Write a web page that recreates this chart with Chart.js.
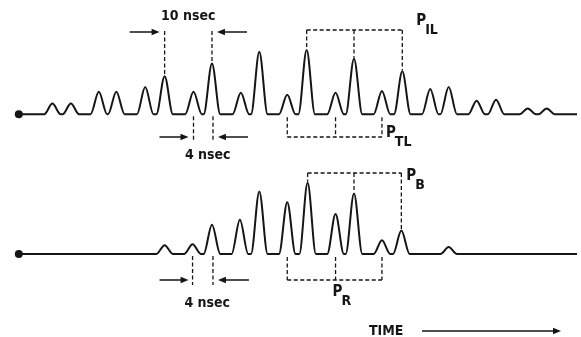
<!DOCTYPE html>
<html>
<head>
<meta charset="utf-8">
<title>Pulse trains</title>
<script src="https://cdn.jsdelivr.net/npm/chart.js"></script>
<style>
  html, body { margin: 0; padding: 0; background: #fff; }
  #wrap { width: 581px; height: 337px; }
</style>
</head>
<body>
<div id="wrap"><canvas id="myChart" width="581" height="337"></canvas></div>
<script>
  // Pulse positions (nsec) and heights (arbitrary units)
  const topTimes = [7.1, 11.0, 16.9, 20.6, 26.7, 30.8, 36.9, 40.8, 46.9, 50.8, 56.7,
                    60.8, 66.9, 70.8, 76.7, 81.0, 86.9, 90.8, 96.7, 100.8, 107.5, 111.5];
  const topHeights = [11, 11, 23, 23, 28, 39, 23, 52, 22, 64, 20,
                      66, 22, 57, 24, 44, 26, 28, 14, 15, 6, 6];
  const bottomTimes = [30.8, 36.7, 40.8, 46.7, 50.8, 56.7, 61.0, 66.9, 70.8, 76.7, 80.8, 90.8];
  const bottomHeights = [9, 10, 30, 35, 64, 53, 73, 41, 62, 14, 24, 7];

  const pulseHalfWidth = 1.75; // nsec
  const tStart = 0, tEnd = 118;
  const topBase = 224, bottomBase = 81;   // vertical offset of each trace

  function buildTrace(times, heights, base) {
    const pts = [{ x: tStart, y: base }];
    times.forEach((t, i) => {
      pts.push({ x: t - pulseHalfWidth, y: base });
      pts.push({ x: t, y: base + heights[i] });
      pts.push({ x: t + pulseHalfWidth, y: base });
    });
    pts.push({ x: tEnd, y: base });
    return pts;
  }

  const ink = '#151515';
  const family = "'DejaVu Sans Condensed', 'DejaVu Sans', sans-serif";
  const labelFont = 'bold 14px ' + family;

  // annotation drawing (dashed brackets, arrows, labels)
  const annotations = {
    id: 'annotations',
    afterDatasetsDraw(chart) {
      const c = chart.ctx;
      const xs = chart.scales.x, ys = chart.scales.y;
      const X = t => xs.getPixelForValue(t);
      const topPeak = i => ys.getPixelForValue(topBase + topHeights[i]);
      const botPeak = i => ys.getPixelForValue(bottomBase + bottomHeights[i]);
      const topLine = ys.getPixelForValue(topBase);
      const botLine = ys.getPixelForValue(bottomBase);

      c.save();
      c.strokeStyle = ink;
      c.fillStyle = ink;

      function dashV(x, y1, y2) {
        c.save(); c.lineWidth = 1.3; c.setLineDash([4, 2.5]);
        c.beginPath(); c.moveTo(x, y1); c.lineTo(x, y2); c.stroke(); c.restore();
      }
      function dashH(x1, x2, y) {
        c.save(); c.lineWidth = 1.3; c.setLineDash([4, 2.5]);
        c.beginPath(); c.moveTo(x1, y); c.lineTo(x2, y); c.stroke(); c.restore();
      }
      function arrow(x1, x2, y) {
        const dir = Math.sign(x2 - x1);
        c.save(); c.lineWidth = 1.5;
        c.beginPath(); c.moveTo(x1, y); c.lineTo(x2 - dir * 5, y); c.stroke();
        c.beginPath(); c.moveTo(x2, y); c.lineTo(x2 - dir * 8, y - 3.2); c.lineTo(x2 - dir * 8, y + 3.2);
        c.closePath(); c.fill(); c.restore();
      }
      function text(s, x, y, align) {
        c.font = labelFont; c.textAlign = align || 'center'; c.textBaseline = 'middle';
        c.fillText(s, x, y);
      }
      function subLabel(main, sub, x, y) {
        c.textAlign = 'left'; c.textBaseline = 'middle';
        c.font = 'bold 15px ' + family;
        c.fillText(main, x, y);
        const w = c.measureText(main).width;
        c.font = 'bold 14px ' + family;
        c.fillText(sub, x + w - 1, y + 9);
      }

      // --- top trace: 10 nsec
      const a5 = X(topTimes[5]), a7 = X(topTimes[7]);
      dashV(a5, 31, topPeak(5) - 1);
      dashV(a7, 31, topPeak(7) - 1);
      arrow(a5 - 35, a5 - 5, 32);
      arrow(a7 + 35, a7 + 5, 32);
      text('10 nsec', (a5 + a7) / 2, 16);

      // --- top trace: 4 nsec
      const a6 = X(topTimes[6]);
      dashV(a6, topLine + 2, 141);
      dashV(a7 + 1, topLine + 2, 141);
      arrow(a6 - 34, a6 - 5, 137);
      arrow(a7 + 36, a7 + 6, 137);
      text('4 nsec', (a6 + a7) / 2 + 5, 155);

      // --- P_IL bracket
      const il = [11, 13, 15].map(i => X(topTimes[i]));
      dashH(il[0], il[2], 30);
      [11, 13, 15].forEach((i, k) => dashV(il[k], 30, topPeak(i) - 1));
      subLabel('P', 'IL', il[2] + 14, 21);

      // --- P_TL bracket
      const tl = [10, 12, 14].map(i => X(topTimes[i]));
      dashH(tl[0], tl[2], 137);
      tl.forEach(x => dashV(x, topLine + 3, 137));
      subLabel('P', 'TL', tl[2] + 4, 133);

      // --- bottom trace: 4 nsec
      const b1 = X(bottomTimes[1]), b2 = X(bottomTimes[2]);
      dashV(b1, botLine + 2, 285);
      dashV(b2 + 1, botLine + 2, 285);
      arrow(b1 - 33, b1 - 4, 280);
      arrow(b2 + 37, b2 + 6, 280);
      text('4 nsec', (b1 + b2) / 2 + 5, 303);

      // --- P_B bracket
      const pb = [6, 8, 10].map(i => X(bottomTimes[i]));
      dashH(pb[0], pb[2], 173);
      [6, 8, 10].forEach((i, k) => dashV(pb[k], 173, botPeak(i) - 1));
      subLabel('P', 'B', pb[2] + 5, 176);

      // --- P_R bracket
      const pr = [5, 7, 9].map(i => X(bottomTimes[i]));
      dashH(pr[0], pr[2], 280);
      pr.forEach(x => dashV(x, botLine + 3, 280));
      subLabel('P', 'R', pr[1] - 3, 292);

      // --- time axis arrow
      c.font = 'bold 14px ' + family;
      c.textAlign = 'left'; c.textBaseline = 'middle';
      c.fillText('TIME', 369, 331);
      arrow(422, 561, 331);

      c.restore();
    }
  };

  const ctx = document.getElementById('myChart').getContext('2d');
  const chart = new Chart(ctx, {
    type: 'line',
    data: {
      datasets: [
        { label: 'Top', data: buildTrace(topTimes, topHeights, topBase) },
        { label: 'Bottom', data: buildTrace(bottomTimes, bottomHeights, bottomBase) }
      ]
    },
    options: {
      responsive: false,
      animation: false,
      layout: { padding: 0 },
      elements: {
        line: {
          borderColor: ink,
          borderWidth: 2,
          cubicInterpolationMode: 'monotone',
          fill: false
        },
        point: {
          radius: c => (c.dataIndex === 0 ? 4 : 0),
          backgroundColor: ink,
          borderColor: ink,
          borderWidth: 0
        }
      },
      scales: {
        x: { type: 'linear', min: -3.125, max: 117.9, display: false },
        y: { min: 0, max: 337, display: false }
      },
      plugins: {
        legend: { display: false },
        tooltip: { enabled: false }
      }
    },
    plugins: [annotations]
  });
</script>
</body>
</html>
